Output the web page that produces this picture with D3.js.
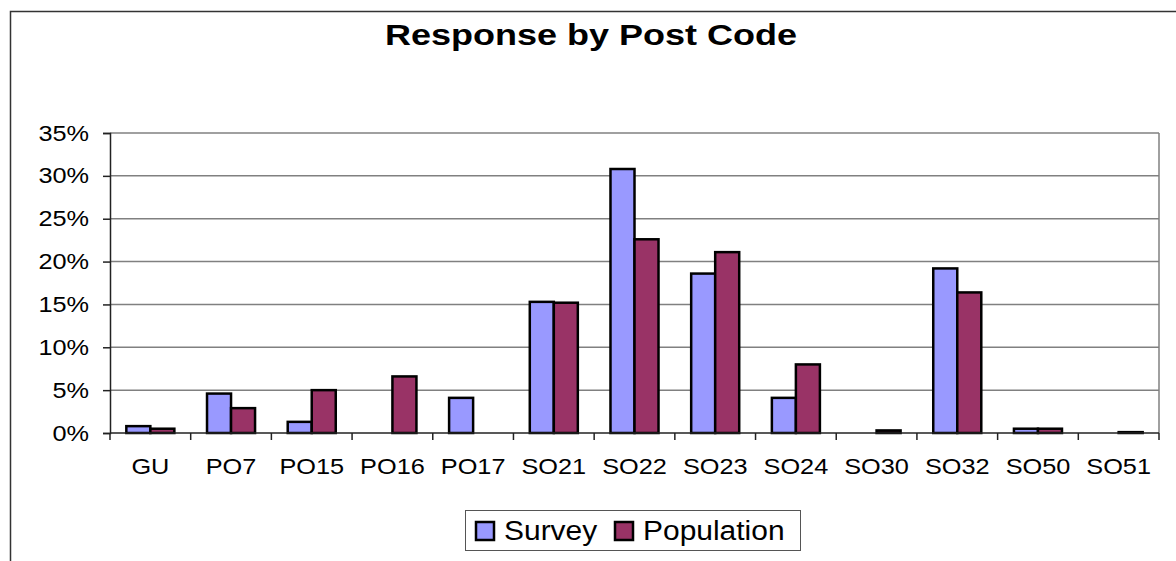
<!DOCTYPE html>
<html>
<head>
<meta charset="utf-8">
<script src="https://cdn.jsdelivr.net/npm/d3@7/dist/d3.min.js"></script>
<style>
  html, body { margin: 0; padding: 0; background: #fff; }
  svg { display: block; font-family: Arial, "Liberation Sans", sans-serif; }
</style>
</head>
<body>
<svg id="chart" width="1176" height="561"></svg>
<script>
// Share of responses by post code district, survey vs. population (percent)
const categories = ["GU", "PO7", "PO15", "PO16", "PO17", "SO21", "SO22", "SO23", "SO24", "SO30", "SO32", "SO50", "SO51"];
const surveyValues = [0.8, 4.6, 1.3, 0, 4.1, 15.3, 30.8, 18.6, 4.1, 0, 19.2, 0.5, 0];
const populationValues = [0.5, 2.9, 5.0, 6.6, 0, 15.2, 22.6, 21.1, 8.0, 0.3, 16.4, 0.5, 0.1];
const seriesNames = ["Survey", "Population"];
const seriesColors = ["#9999FF", "#993366"];
const yTicks = [0, 5, 10, 15, 20, 25, 30, 35];
const chartTitle = "Response by Post Code";

const svg = d3.select("#chart");

const plot = { left: 110, right: 1159, top: 133, bottom: 433 };

// Outer chart frame (extends past the right and bottom edges)
svg.append("rect")
  .attr("x", 10.5).attr("y", 11.5)
  .attr("width", 1200).attr("height", 600)
  .attr("fill", "#fff").attr("stroke", "#333").attr("stroke-width", 1.5);

const x = d3.scaleBand()
  .domain(categories)
  .range([plot.left, plot.right])
  .paddingInner(0).paddingOuter(0);

const x1 = d3.scaleBand()
  .domain(seriesNames)
  .range([0, x.step()])
  .paddingInner(0).paddingOuter(0.68);

const y = d3.scaleLinear()
  .domain([0, 35])
  .range([plot.bottom, plot.top]);

// Horizontal gridlines
svg.append("g")
  .selectAll("line")
  .data(yTicks.filter(d => d > 0))
  .join("line")
  .attr("x1", plot.left).attr("x2", plot.right)
  .attr("y1", d => y(d)).attr("y2", d => y(d))
  .attr("stroke", "#808080").attr("stroke-width", 1.5);

// Plot-area right border
svg.append("line")
  .attr("x1", plot.right).attr("x2", plot.right)
  .attr("y1", plot.top).attr("y2", plot.bottom)
  .attr("stroke", "#808080").attr("stroke-width", 1.5);

// Bars
const rows = categories.map((c, i) => ({ cat: c, values: [surveyValues[i], populationValues[i]] }));
const groups = svg.append("g")
  .selectAll("g")
  .data(rows)
  .join("g")
  .attr("transform", d => `translate(${x(d.cat)},0)`);

groups.selectAll("rect")
  .data(d => d.values.map((v, k) => ({ series: seriesNames[k], color: seriesColors[k], value: v })).filter(b => b.value > 0))
  .join("rect")
  .attr("x", d => x1(d.series))
  .attr("width", x1.bandwidth())
  .attr("y", d => y(d.value))
  .attr("height", d => y(0) - y(d.value))
  .attr("fill", d => d.color)
  .attr("stroke", "#000")
  .attr("stroke-width", 2.5)
  .attr("stroke-linejoin", "miter");

// Y axis
const yAxis = svg.append("g")
  .attr("transform", `translate(${plot.left},0)`)
  .call(d3.axisLeft(y).tickValues(yTicks).tickFormat(d => d + "%").tickSize(7).tickPadding(14));
yAxis.select(".domain").attr("stroke", "#222").attr("stroke-width", 1.5);
yAxis.selectAll(".tick line").attr("stroke", "#222").attr("stroke-width", 1.5);
yAxis.selectAll(".tick text")
  .attr("font-size", 22).attr("fill", "#000")
  .attr("x", 0)
  .attr("transform", "translate(-21,0) scale(1.15,1)");

// X axis: baseline, boundary ticks, centered labels
svg.append("line")
  .attr("x1", plot.left).attr("x2", plot.right)
  .attr("y1", y(0)).attr("y2", y(0))
  .attr("stroke", "#222").attr("stroke-width", 1.5);

const boundaries = categories.map(c => x(c)).concat([x(categories[categories.length - 1]) + x.step()]);
svg.append("g")
  .selectAll("line")
  .data(boundaries)
  .join("line")
  .attr("x1", d => d).attr("x2", d => d)
  .attr("y1", y(0)).attr("y2", y(0) + 7)
  .attr("stroke", "#222").attr("stroke-width", 1.5);

svg.append("g")
  .selectAll("text")
  .data(categories)
  .join("text")
  .attr("transform", d => `translate(${x(d) + x.bandwidth() / 2},${y(0) + 41}) scale(1.15,1)`)
  .attr("text-anchor", "middle")
  .attr("font-size", 22)
  .attr("fill", "#000")
  .text(d => d);

// Title
svg.append("text")
  .attr("transform", "translate(591,45) scale(1.2,1)")
  .attr("text-anchor", "middle")
  .attr("font-size", 30)
  .attr("font-weight", "bold")
  .attr("fill", "#000")
  .text(chartTitle);

// Legend
const legend = svg.append("g");
legend.append("rect")
  .attr("x", 465.5).attr("y", 510.5)
  .attr("width", 335).attr("height", 40)
  .attr("fill", "#fff").attr("stroke", "#555").attr("stroke-width", 1);

const legendItems = [
  { name: seriesNames[0], color: seriesColors[0], sx: 476, tx: 504 },
  { name: seriesNames[1], color: seriesColors[1], sx: 615, tx: 643 }
];
legendItems.forEach(it => {
  legend.append("rect")
    .attr("x", it.sx).attr("y", 522)
    .attr("width", 18).attr("height", 18)
    .attr("fill", it.color).attr("stroke", "#000").attr("stroke-width", 2.5);
  legend.append("text")
    .attr("transform", `translate(${it.tx},540) scale(1.07,1)`)
    .attr("font-size", 28)
    .attr("fill", "#000")
    .text(it.name);
});
</script>
</body>
</html>
